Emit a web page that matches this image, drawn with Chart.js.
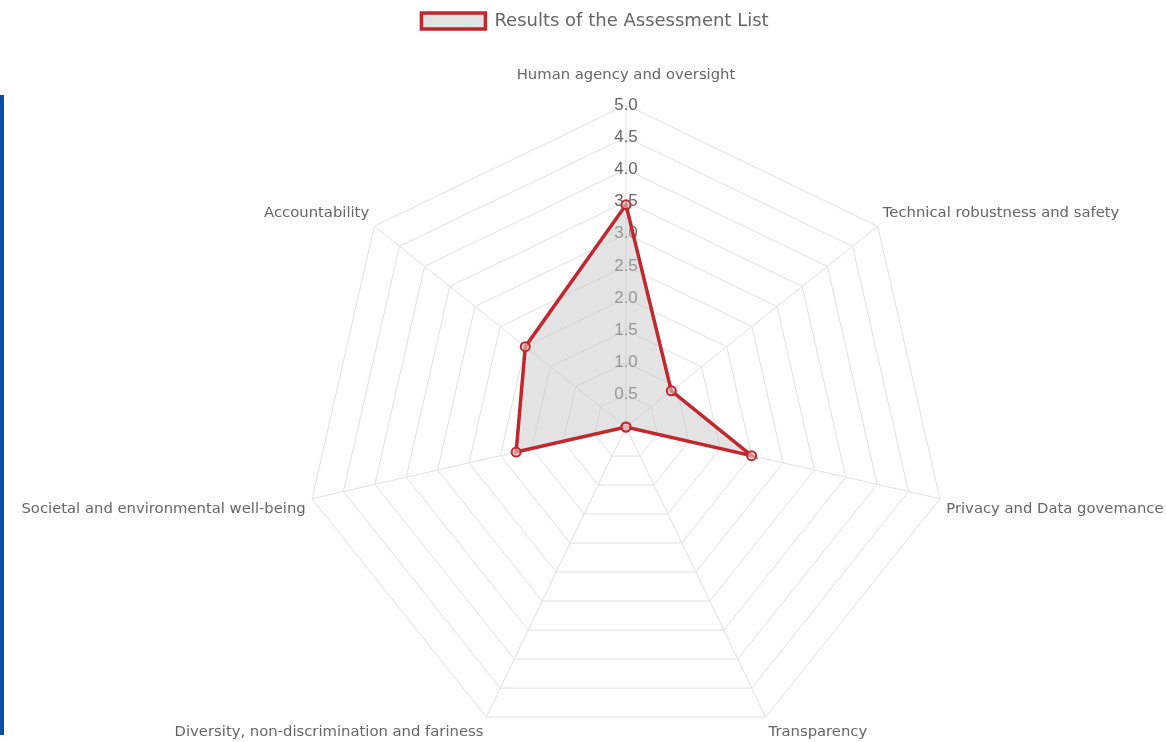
<!DOCTYPE html>
<html>
<head>
<meta charset="utf-8">
<script src="https://cdn.jsdelivr.net/npm/chart.js@4"></script>
<style>
    html, body { margin: 0; padding: 0; background: #fff; }
    #wrap { position: relative; width: 1166px; height: 742px; }
    #bar { position: absolute; left: 0; top: 95px; width: 4px; height: 640px; background: #0b4ea6; }
    #chart { position: absolute; left: 0; top: 0; }
</style>
</head>
<body>
<div id="wrap">
    <div id="bar"></div>
    <canvas id="chart" width="1166" height="742"></canvas>
</div>
<script>
// Axis names and scores
const categories = [
    'Human agency and oversight',
    'Technical robustness and safety',
    'Privacy and Data govemance',
    'Transparency',
    'Diversity, non-discrimination and fariness',
    'Societal and environmental well-being',
    'Accountability'
];
const scores = [3.45, 0.9, 2.0, 0, 0, 1.75, 2.0];
const seriesLabel = 'Results of the Assessment List';
const scaleMin = 0;
const scaleMax = 5;
const scaleStep = 0.5;

// where the radar sits on the page
const radarCenterX = 626;
const radarCenterY = 427;
const radarRadius = 322;

const ctx = document.getElementById('chart').getContext('2d');

new Chart(ctx, {
    type: 'radar',
    data: {
        labels: categories,
        datasets: [{
            label: seriesLabel,
            data: scores,
            borderColor: '#c1272d',
            backgroundColor: 'rgba(200, 200, 200, 0.5)',
            borderWidth: 3.5,
            pointRadius: 4.5,
            pointBorderWidth: 2,
            pointBorderColor: '#c1272d',
            pointBackgroundColor: 'rgba(230, 200, 200, 0.6)',
            fill: true
        }]
    },
    options: {
        responsive: false,
        animation: false,
        layout: {
            padding: { left: 24, right: 0, top: 0, bottom: 0 }
        },
        scales: {
            r: {
                min: scaleMin,
                max: scaleMax,
                // pin the radar in place instead of the auto fit
                beforeFit(scale) {
                    scale.setCenterPoint = function () {
                        this.xCenter = radarCenterX;
                        this.yCenter = radarCenterY;
                        this.drawingArea = radarRadius;
                    };
                },
                ticks: {
                    stepSize: scaleStep,
                    color: '#666',
                    showLabelBackdrop: false,
                    font: { family: 'Liberation Sans, Arial', size: 17 },
                    callback: v => v === 0 ? '' : v.toFixed(1)
                },
                grid: { color: '#e0e0e0', lineWidth: 1 },
                angleLines: { color: '#e0e0e0', lineWidth: 1 },
                pointLabels: {
                    color: '#666',
                    padding: c => c.index === 0 ? 10 : -4,
                    font: { family: 'DejaVu Sans', size: 14.8 }
                }
            }
        },
        plugins: {
            legend: {
                position: 'top',
                labels: {
                    color: '#666',
                    boxWidth: 64,
                    boxHeight: 16,
                    padding: 12,
                    font: { family: 'DejaVu Sans', size: 18 }
                }
            },
            tooltip: { enabled: false }
        }
    }
});
</script>
</body>
</html>
